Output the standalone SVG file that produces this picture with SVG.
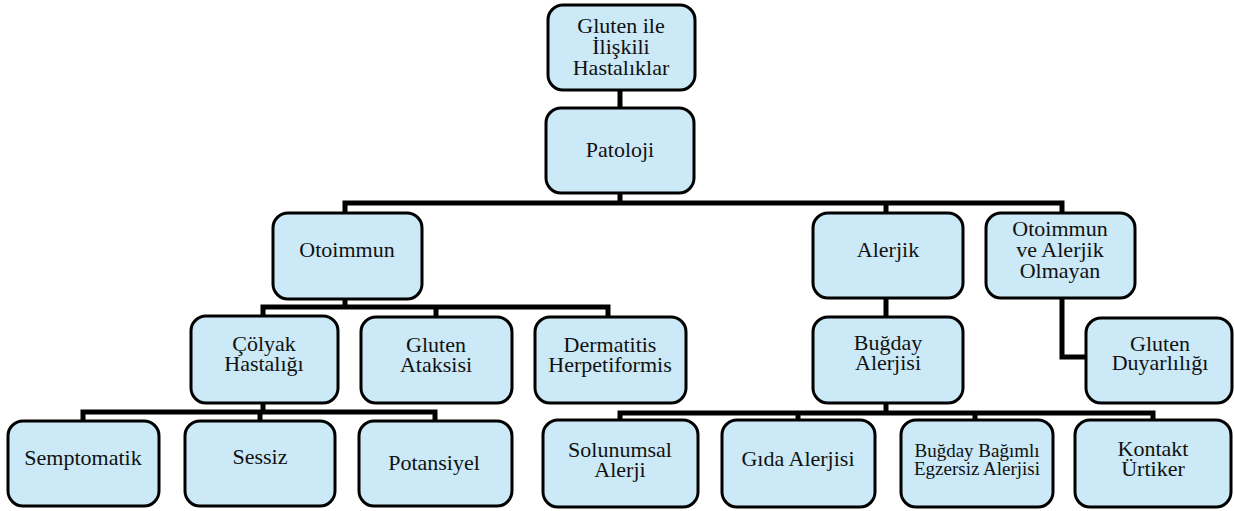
<svg xmlns="http://www.w3.org/2000/svg" width="1234" height="511" viewBox="0 0 1234 511">
<style>
.box{fill:#CBE9F6;stroke:#000;stroke-width:3}
.t{font-family:'Liberation Serif','DejaVu Serif',serif;font-size:22px;fill:#111;text-anchor:middle}
.s{font-size:19px}
.c{fill:none;stroke:#000;stroke-width:5;stroke-linejoin:miter}
</style>
<rect width="1234" height="511" fill="#fff"/>
<g id="connectors">
<path class="c" d="M620 89V108"/>
<path class="c" d="M620 193V203"/>
<path class="c" d="M345 213V203H1062V213"/>
<path class="c" d="M886 203V213"/>
<path class="c" d="M345 299V307"/>
<path class="c" d="M263 316V307H608V317"/>
<path class="c" d="M436 307V317"/>
<path class="c" d="M886 298V317"/>
<path class="c" d="M1062 298V357H1086"/>
<path class="c" d="M263 403V412"/>
<path class="c" d="M83 421V412H435V421"/>
<path class="c" d="M260 412V421"/>
<path class="c" d="M886 403V413"/>
<path class="c" d="M620 420V413H1153V420"/>
<path class="c" d="M798 413V420"/>
<path class="c" d="M975 413V420"/>
</g>
<g id="root"><rect class="box" x="548" y="5" width="147" height="85" rx="15"/><text class="t" x="621" y="33">Gluten ile</text><text class="t" x="621" y="54">İlişkili</text><text class="t" x="621" y="75">Hastalıklar</text></g>
<g id="patoloji"><rect class="box" x="546" y="108" width="148" height="85" rx="15"/><text class="t" x="620" y="157">Patoloji</text></g>
<g id="otoimmun"><rect class="box" x="273" y="213" width="149" height="86" rx="15"/><text class="t" x="347" y="257">Otoimmun</text></g>
<g id="alerjik"><rect class="box" x="813" y="213" width="150" height="85" rx="15"/><text class="t" x="888" y="257">Alerjik</text></g>
<g id="olmayan"><rect class="box" x="986" y="213" width="149" height="85" rx="15"/><text class="t" x="1060" y="236">Otoimmun</text><text class="t" x="1060" y="257">ve Alerjik</text><text class="t" x="1060" y="278">Olmayan</text></g>
<g id="colyak"><rect class="box" x="191" y="316" width="147" height="87" rx="15"/><text class="t" x="264" y="351">Çölyak</text><text class="t" x="264" y="371">Hastalığı</text></g>
<g id="ataksi"><rect class="box" x="361" y="317" width="151" height="86" rx="15"/><text class="t" x="436" y="352">Gluten</text><text class="t" x="436" y="372">Ataksisi</text></g>
<g id="dermatitis"><rect class="box" x="535" y="317" width="151" height="86" rx="15"/><text class="t" x="610" y="352">Dermatitis</text><text class="t" x="610" y="372">Herpetiformis</text></g>
<g id="bugday"><rect class="box" x="813" y="317" width="150" height="86" rx="15"/><text class="t" x="888" y="350">Buğday</text><text class="t" x="888" y="370">Alerjisi</text></g>
<g id="duyarlilik"><rect class="box" x="1086" y="318" width="146" height="85" rx="15"/><text class="t" x="1160" y="351">Gluten</text><text class="t" x="1160" y="370">Duyarlılığı</text></g>
<g id="semptomatik"><rect class="box" x="8" y="421" width="151" height="85" rx="15"/><text class="t" x="83" y="465">Semptomatik</text></g>
<g id="sessiz"><rect class="box" x="185" y="421" width="150" height="85" rx="15"/><text class="t" x="260" y="464">Sessiz</text></g>
<g id="potansiyel"><rect class="box" x="359" y="421" width="153" height="85" rx="15"/><text class="t" x="434" y="470">Potansiyel</text></g>
<g id="solunumsal"><rect class="box" x="543" y="420" width="155" height="87" rx="15"/><text class="t" x="620" y="457">Solunumsal</text><text class="t" x="620" y="477">Alerji</text></g>
<g id="gida"><rect class="box" x="722" y="420" width="153" height="87" rx="15"/><text class="t" x="798" y="466">Gıda Alerjisi</text></g>
<g id="bugdaybagimli"><rect class="box" x="901" y="420" width="152" height="87" rx="15"/><text class="t s" x="977" y="457">Buğday Bağımlı</text><text class="t s" x="977" y="475">Egzersiz Alerjisi</text></g>
<g id="kontakt"><rect class="box" x="1075" y="420" width="156" height="87" rx="15"/><text class="t" x="1153" y="456">Kontakt</text><text class="t" x="1153" y="476">Ürtiker</text></g>
</svg>
